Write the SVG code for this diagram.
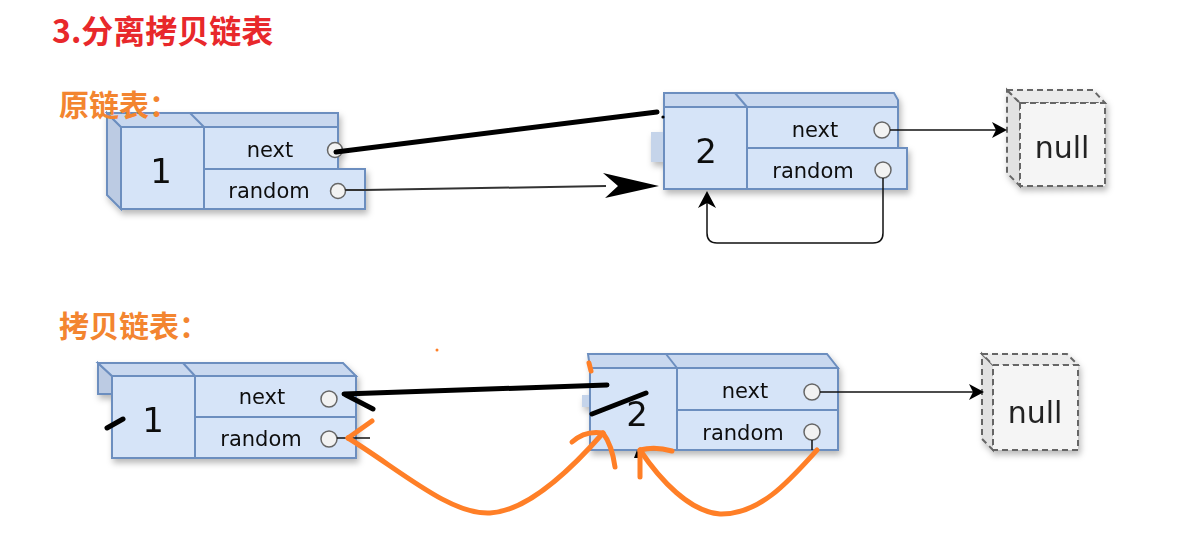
<svg xmlns="http://www.w3.org/2000/svg" width="1192" height="543" viewBox="0 0 1192 543">
<defs>
<filter id="sh" x="-10%" y="-10%" width="130%" height="140%">
<feDropShadow dx="2" dy="4" stdDeviation="3" flood-color="#000" flood-opacity="0.28"/>
</filter>
<style>
.title{font-family:"Noto Sans CJK SC","Liberation Sans",sans-serif;font-weight:bold;font-size:32px;fill:#e8282b}
.lbl{font-family:"Noto Sans CJK SC","Liberation Sans",sans-serif;font-weight:bold;font-size:30px;fill:#f38530}
.face{fill:#d6e4f8;stroke:#6c8ebf;stroke-width:2}
.top{fill:#c9d8ef;stroke:#6c8ebf;stroke-width:2}
.side{fill:#bccbe3;stroke:#6c8ebf;stroke-width:2}
.ptr{fill:#f2f2f2;stroke:#666;stroke-width:1.5}
.t{font-family:"DejaVu Sans",sans-serif;font-size:21px;fill:#111;text-anchor:middle}
.num{font-family:"DejaVu Sans",sans-serif;font-size:34px;fill:#111;text-anchor:middle}
.nf{fill:#f5f5f5;stroke:#666;stroke-width:2;stroke-dasharray:6 4}
.ns{fill:#e2e2e2;stroke:#666;stroke-width:2;stroke-dasharray:6 4}
.nt{fill:#ebebeb;stroke:#666;stroke-width:2;stroke-dasharray:6 4}
.nulltxt{font-family:"DejaVu Sans",sans-serif;font-size:30px;fill:#222;text-anchor:middle}
.thin{fill:none;stroke:#111;stroke-width:1.5}
.ink{fill:none;stroke:#000;stroke-width:5;stroke-linecap:round;stroke-linejoin:round}
.or{fill:none;stroke:#ff7f27;stroke-width:5;stroke-linecap:round;stroke-linejoin:round}
</style>
</defs>
<rect width="1192" height="543" fill="#fff"/>

<!-- top row -->
<g id="top-node1" filter="url(#sh)">
<polygon class="side" points="107,113 121,127 121,209 107,195"/>
<polygon class="top" points="107,113 338,113 338,127 121,127"/>
<line x1="190" y1="113" x2="204" y2="127" stroke="#6c8ebf" stroke-width="2"/>
<rect class="face" x="121" y="127" width="83" height="82"/>
<rect class="face" x="204" y="127" width="134" height="42"/>
<rect class="face" x="204" y="169" width="161" height="40"/>
<circle class="ptr" cx="335" cy="150" r="7.5"/>
<circle class="ptr" cx="338" cy="191" r="7.5"/>
<text class="num" x="161" y="183">1</text>
<text class="t" x="270" y="157">next</text>
<text class="t" x="269" y="198">random</text>
</g>

<g id="top-node2" filter="url(#sh)">
<rect x="651" y="132" width="13" height="30" fill="#c5d4ea"/>
<polygon class="top" points="664,93 894,93 898,100 898,107 664,107"/>
<line x1="735" y1="93" x2="747" y2="107" stroke="#6c8ebf" stroke-width="2"/>
<rect class="face" x="664" y="107" width="83" height="82"/>
<rect class="face" x="747" y="107" width="151" height="41"/>
<rect class="face" x="747" y="148" width="160" height="41"/>
<circle class="ptr" cx="882" cy="130" r="8"/>
<circle class="ptr" cx="883" cy="170" r="8"/>
<text class="num" x="706" y="163">2</text>
<text class="t" x="815" y="137">next</text>
<text class="t" x="813" y="178">random</text>
</g>

<g id="top-null" filter="url(#sh)">
<polygon class="ns" points="1007,90 1020,103 1020,186 1007,173"/>
<polygon class="nt" points="1007,90 1093,90 1105,103 1020,103"/>
<rect class="nf" x="1020" y="103" width="85" height="83"/>
<text class="nulltxt" x="1062" y="158">null</text>
</g>

<!-- bottom row -->
<g id="bottom-node1" filter="url(#sh)">
<polygon class="side" points="98,363 112,376 112,394 98,394"/>
<polygon class="top" points="98,363 343,363 356,376 112,376"/>
<line x1="183" y1="363" x2="195" y2="376" stroke="#6c8ebf" stroke-width="2"/>
<rect class="face" x="112" y="376" width="83" height="82"/>
<rect class="face" x="195" y="376" width="161" height="41"/>
<rect class="face" x="195" y="417" width="161" height="41"/>
<circle class="ptr" cx="329" cy="399" r="8"/>
<circle class="ptr" cx="329" cy="439" r="8"/>
<text class="num" x="153" y="432">1</text>
<text class="t" x="262" y="404">next</text>
<text class="t" x="261" y="446">random</text>
</g>

<g id="bottom-node2" filter="url(#sh)">
<rect x="582" y="395" width="8" height="12" fill="#c5d4ea"/>
<polygon class="top" points="588,354 827,354 838,368 590,368"/>
<line x1="666" y1="354" x2="677" y2="368" stroke="#6c8ebf" stroke-width="2"/>
<rect class="face" x="590" y="368" width="87" height="82"/>
<rect class="face" x="677" y="368" width="161" height="42"/>
<rect class="face" x="677" y="410" width="161" height="40"/>
<circle class="ptr" cx="812" cy="392" r="8"/>
<circle class="ptr" cx="812" cy="432" r="8"/>
<text class="num" x="637" y="426">2</text>
<text class="t" x="745" y="398">next</text>
<text class="t" x="743" y="440">random</text>
</g>

<g id="bottom-null" filter="url(#sh)">
<polygon class="ns" points="982,354 993,365 993,450 982,439"/>
<polygon class="nt" points="982,354 1067,354 1078,365 993,365"/>
<rect class="nf" x="993" y="365" width="85" height="85"/>
<text class="nulltxt" x="1035" y="423">null</text>
</g>

<g id="connectors">
<!-- top -->
<path class="ink" d="M336,152 L657,112"/>
<circle cx="663" cy="117" r="1.6" fill="#000"/>
<path d="M345,190 L365,190 L606,186" fill="none" stroke="#333" stroke-width="2"/>
<polygon points="603,173 659,186 605,198 618,186" fill="#000"/>
<path class="thin" d="M890,130 L998,130"/>
<polygon points="1007,130 992,122 996,130 992,138" fill="#000"/>
<path class="thin" d="M883,178 L883,233 Q883,243 873,243 L717,243 Q707,243 707,233 L707,202"/>
<polygon points="707,191 698,208 707,203 716,208" fill="#000"/>
<!-- bottom -->
<path class="thin" d="M820,392 L975,392"/>
<polygon points="984,392 969,384 973,392 969,400" fill="#000"/>
<path class="thin" d="M337,438 L370,438"/>
<path class="thin" d="M812,440 L812,450"/>
<path class="ink" d="M607,385 L344,394"/>
<path class="ink" stroke-width="4" d="M346,395 L373,409"/>
<path class="ink" stroke-width="4" d="M592,414 L646,393"/>
<path class="ink" stroke-width="4" d="M107,428 L123,419"/>
<path d="M634,458 L637,450 L640,458 Z" fill="#000"/>
<path class="or" d="M348,438 C400,470 450,515 490,513 C530,511 575,465 603,433"/>
<path class="or" d="M348,438 L372,421"/>
<path class="or" d="M572,442 Q585,430 603,433 Q612,445 615,467"/>
<path class="or" d="M817,450 C790,480 760,515 720,514 C690,512 660,480 640,450"/>
<path class="or" d="M672,451 Q655,446 640,450 L640,477"/>
<path class="or" stroke-width="3" d="M589,363 L591,371"/>
<circle cx="437" cy="350" r="1.5" fill="#ff7f27"/>
</g>

<text class="title" x="52" y="43">3.分离拷贝链表</text>
<text class="lbl" x="59" y="116">原链表：</text>
<text class="lbl" x="59" y="337">拷贝链表：</text>
</svg>
